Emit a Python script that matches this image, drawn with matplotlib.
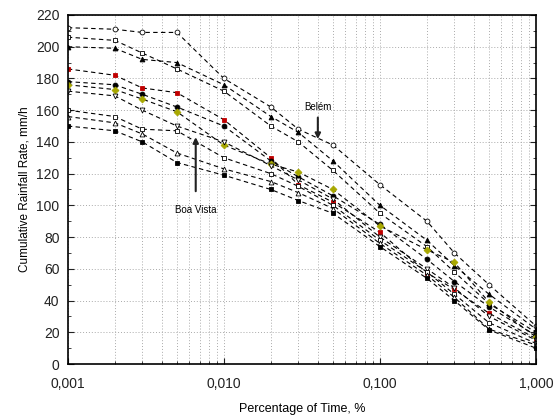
import matplotlib
matplotlib.use("Agg")
import matplotlib.pyplot as plt
from matplotlib.ticker import FixedLocator, FixedFormatter, MultipleLocator, LogLocator, NullFormatter

plt.rcParams['font.family'] = ['Liberation Sans', 'DejaVu Sans']

time_pct = [0.001, 0.002, 0.003, 0.005, 0.01, 0.02, 0.03, 0.05, 0.1, 0.2, 0.3, 0.5, 1.0]

s_belem = [212, 211, 209, 209, 180, 162, 148, 138, 113, 90, 70, 50, 24]
s_2 = [206, 204, 196, 186, 172, 150, 140, 122, 95, 74, 58, 38, 20]
s_3 = [200, 199, 192, 190, 176, 156, 146, 128, 100, 78, 62, 44, 22]
s_red = [186, 182, 174, 171, 154, 130, 113, 102, 83, 57.5, 47, 32, 16]
s_5 = [178, 176, 170, 162, 150, 128, 118, 106, 88, 66, 52, 36, 18]
s_yellow = [176, 173, 167, 159, 138, 126, 121, 110, 87, 72, 64, 39, 17]
s_7 = [172, 169, 160, 150, 140, 125, 116, 104, 80, 60, 48, 30, 15]
s_boavista = [160, 156, 148, 147, 130, 120, 112, 100, 78, 58, 44, 26, 13]
s_9 = [156, 152, 145, 133, 123, 115, 108, 98, 76, 56, 42, 22, 12]
s_10 = [150, 147, 140, 127, 119, 110, 103, 95, 74, 54, 40, 21.5, 10]

series = [
    (s_belem, 'o', 'white', 'black'),
    (s_2, 's', 'white', 'black'),
    (s_3, '^', 'black', 'black'),
    (s_red, 's', '#c00000', '#c00000'),
    (s_5, 'o', 'black', 'black'),
    (s_yellow, 'D', '#a8a800', '#a8a800'),
    (s_7, 'v', 'white', 'black'),
    (s_boavista, 's', 'white', 'black'),
    (s_9, '^', 'white', 'black'),
    (s_10, 's', 'black', 'black'),
]

x_ticks = [0.001, 0.01, 0.1, 1.0]
x_ticklabels = ['0,001', '0,010', '0,100', '1,000']

fig = plt.figure(figsize=(5.56, 4.16), dpi=100)
ax = fig.add_axes([0.122, 0.125, 0.842, 0.839])

for vals, mk, fc, ec in series:
    ax.plot(time_pct, vals, linestyle=(0, (4, 3)), color='black', lw=0.8,
            marker=mk, markersize=3.5, markerfacecolor=fc, markeredgecolor=ec,
            markeredgewidth=0.6)

ax.set_xscale('log')
ax.set_xlim(0.001, 1.0)
ax.set_ylim(0, 220)
ax.xaxis.set_major_locator(FixedLocator(x_ticks))
ax.xaxis.set_major_formatter(FixedFormatter(x_ticklabels))
ax.xaxis.set_minor_locator(LogLocator(base=10, subs=range(2, 10)))
ax.xaxis.set_minor_formatter(NullFormatter())
ax.yaxis.set_major_locator(MultipleLocator(20))
ax.yaxis.set_minor_locator(MultipleLocator(10))

ax.grid(True, which='both', axis='x', linestyle=(0, (1, 2)), color='#aaaaaa', lw=0.7)
ax.grid(True, which='major', axis='y', linestyle=(0, (1, 2)), color='#aaaaaa', lw=0.7)

ax.tick_params(which='both', direction='in', top=False, right=True, labelsize=10, colors='#222222')
ax.tick_params(which='major', length=4)
ax.tick_params(which='minor', length=2)
ax.tick_params(axis='x', which='major', pad=9)
ax.tick_params(axis='y', which='major', pad=6)
for sp in ax.spines.values():
    sp.set_linewidth(1.2)

ax.set_xlabel('Percentage of Time, %', fontsize=9, labelpad=9)
ax.set_ylabel('Cumulative Rainfall Rate, mm/h', fontsize=8.5)

ax.annotate('Belém', xy=(0.04, 140), xytext=(0.04, 162), fontsize=7, ha='center', va='center',
            arrowprops=dict(arrowstyle='-|>', color='#222222', lw=1.5, mutation_scale=8))
ax.annotate('Boa Vista', xy=(0.0066, 143), xytext=(0.0066, 97), fontsize=7, ha='center', va='center',
            arrowprops=dict(arrowstyle='-|>', color='#222222', lw=1.5, mutation_scale=8, shrinkB=0, shrinkA=8))

fig.savefig('out.png', dpi=100)
